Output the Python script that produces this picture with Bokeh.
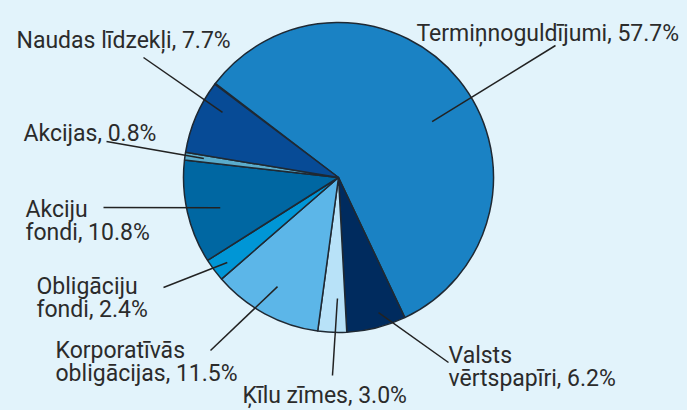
import math
from bokeh.plotting import figure
from bokeh.models import Range1d
from bokeh.embed import file_html
from bokeh.resources import INLINE
from bokeh.core.properties import value

# ---- data ----
categories = ["", "Termiņnoguldījumi", "Valsts\nvērtspapīri", "Ķīlu zīmes",
              "Korporatīvās\nobligācijas", "Obligāciju\nfondi", "Akciju\nfondi",
              "Akcijas", "Naudas līdzekļi"]
shares = [0.1, 57.7, 6.2, 3.0, 11.5, 2.4, 10.8, 0.8, 7.7]
colors = ["#eef6fa", "#1a82c4", "#002b5e", "#b8e2f8", "#5cb6e8",
          "#0096d6", "#0067a2", "#5aaccc", "#074b96"]

# ---- layout (page pixel coordinates) ----
W, H = 687, 410
BG = "#e2f3fb"
CX, CY, R = 338, 177, 155
START_DEG = 143.0
# leader anchors inside slices: (angle deg, radius px)
anchor_polar = [None, (30.8, 109), (-73.5, 141), (-90.5, 121), (-119.2, 125),
                (217.4, 140), (194.3, 122), (172.0, 136), (150.7, 133)]
# leader outer ends
leader_out = [None, (555, 45), (448, 362), (332, 375), (210, 350),
              (163, 287), (103, 207), (106, 141), (143, 57)]
# label positions: left x, first baseline y
label_pos = [None, (416, 33), (448, 355), (242, 395), (55, 350),
             (36, 286), (25, 209), (23, 133), (16, 40)]
LINE_H = 23


def X(px):
    return px


def Y(py):
    return H - py


p = figure(width=W, height=H, output_backend="svg", toolbar_location=None,
           x_range=Range1d(0, W), y_range=Range1d(0, H), min_border=0,
           background_fill_color=BG, border_fill_color=BG, outline_line_color=None)
p.axis.visible = False
p.grid.visible = False

total = sum(shares)
cum = 0.0
starts, ends = [], []
for v in shares:
    a0 = START_DEG - cum / total * 360.0
    a1 = a0 - v / total * 360.0
    starts.append(math.radians(a0))
    ends.append(math.radians(a1))
    cum += v

p.wedge(x=[X(CX)] * len(shares), y=[Y(CY)] * len(shares), radius=R,
        start_angle=starts, end_angle=ends, direction="clock",
        fill_color=colors, line_color="#1f2933", line_width=1.5)

# leaders
xs, ys = [], []
for i in range(len(shares)):
    if anchor_polar[i] is None:
        continue
    ang, rr = anchor_polar[i]
    ax = CX + rr * math.cos(math.radians(ang))
    ay = CY - rr * math.sin(math.radians(ang))
    ox, oy = leader_out[i]
    xs.append([X(ax), X(ox)])
    ys.append([Y(ay), Y(oy)])
p.multi_line(xs=xs, ys=ys, line_color="#222222", line_width=1.5)

# labels
tx, ty, tt = [], [], []
for i, (name, v) in enumerate(zip(categories, shares)):
    if label_pos[i] is None:
        continue
    full = f"{name}, {v:.1f}%"
    lx, ly = label_pos[i]
    for k, line in enumerate(full.split("\n")):
        tx.append(X(lx))
        ty.append(Y(ly + k * LINE_H))
        tt.append(line)
p.text(x=tx, y=ty, text=tt, text_font=value("Roboto"), text_font_size="23px",
       text_color="#2b2b2b", text_baseline="alphabetic", text_align="left")

html = file_html(p, INLINE)
html = html.replace("<head>", "<head><style>html,body{background:%s;}</style>" % BG, 1)
open("out.html", "w").write(html)
